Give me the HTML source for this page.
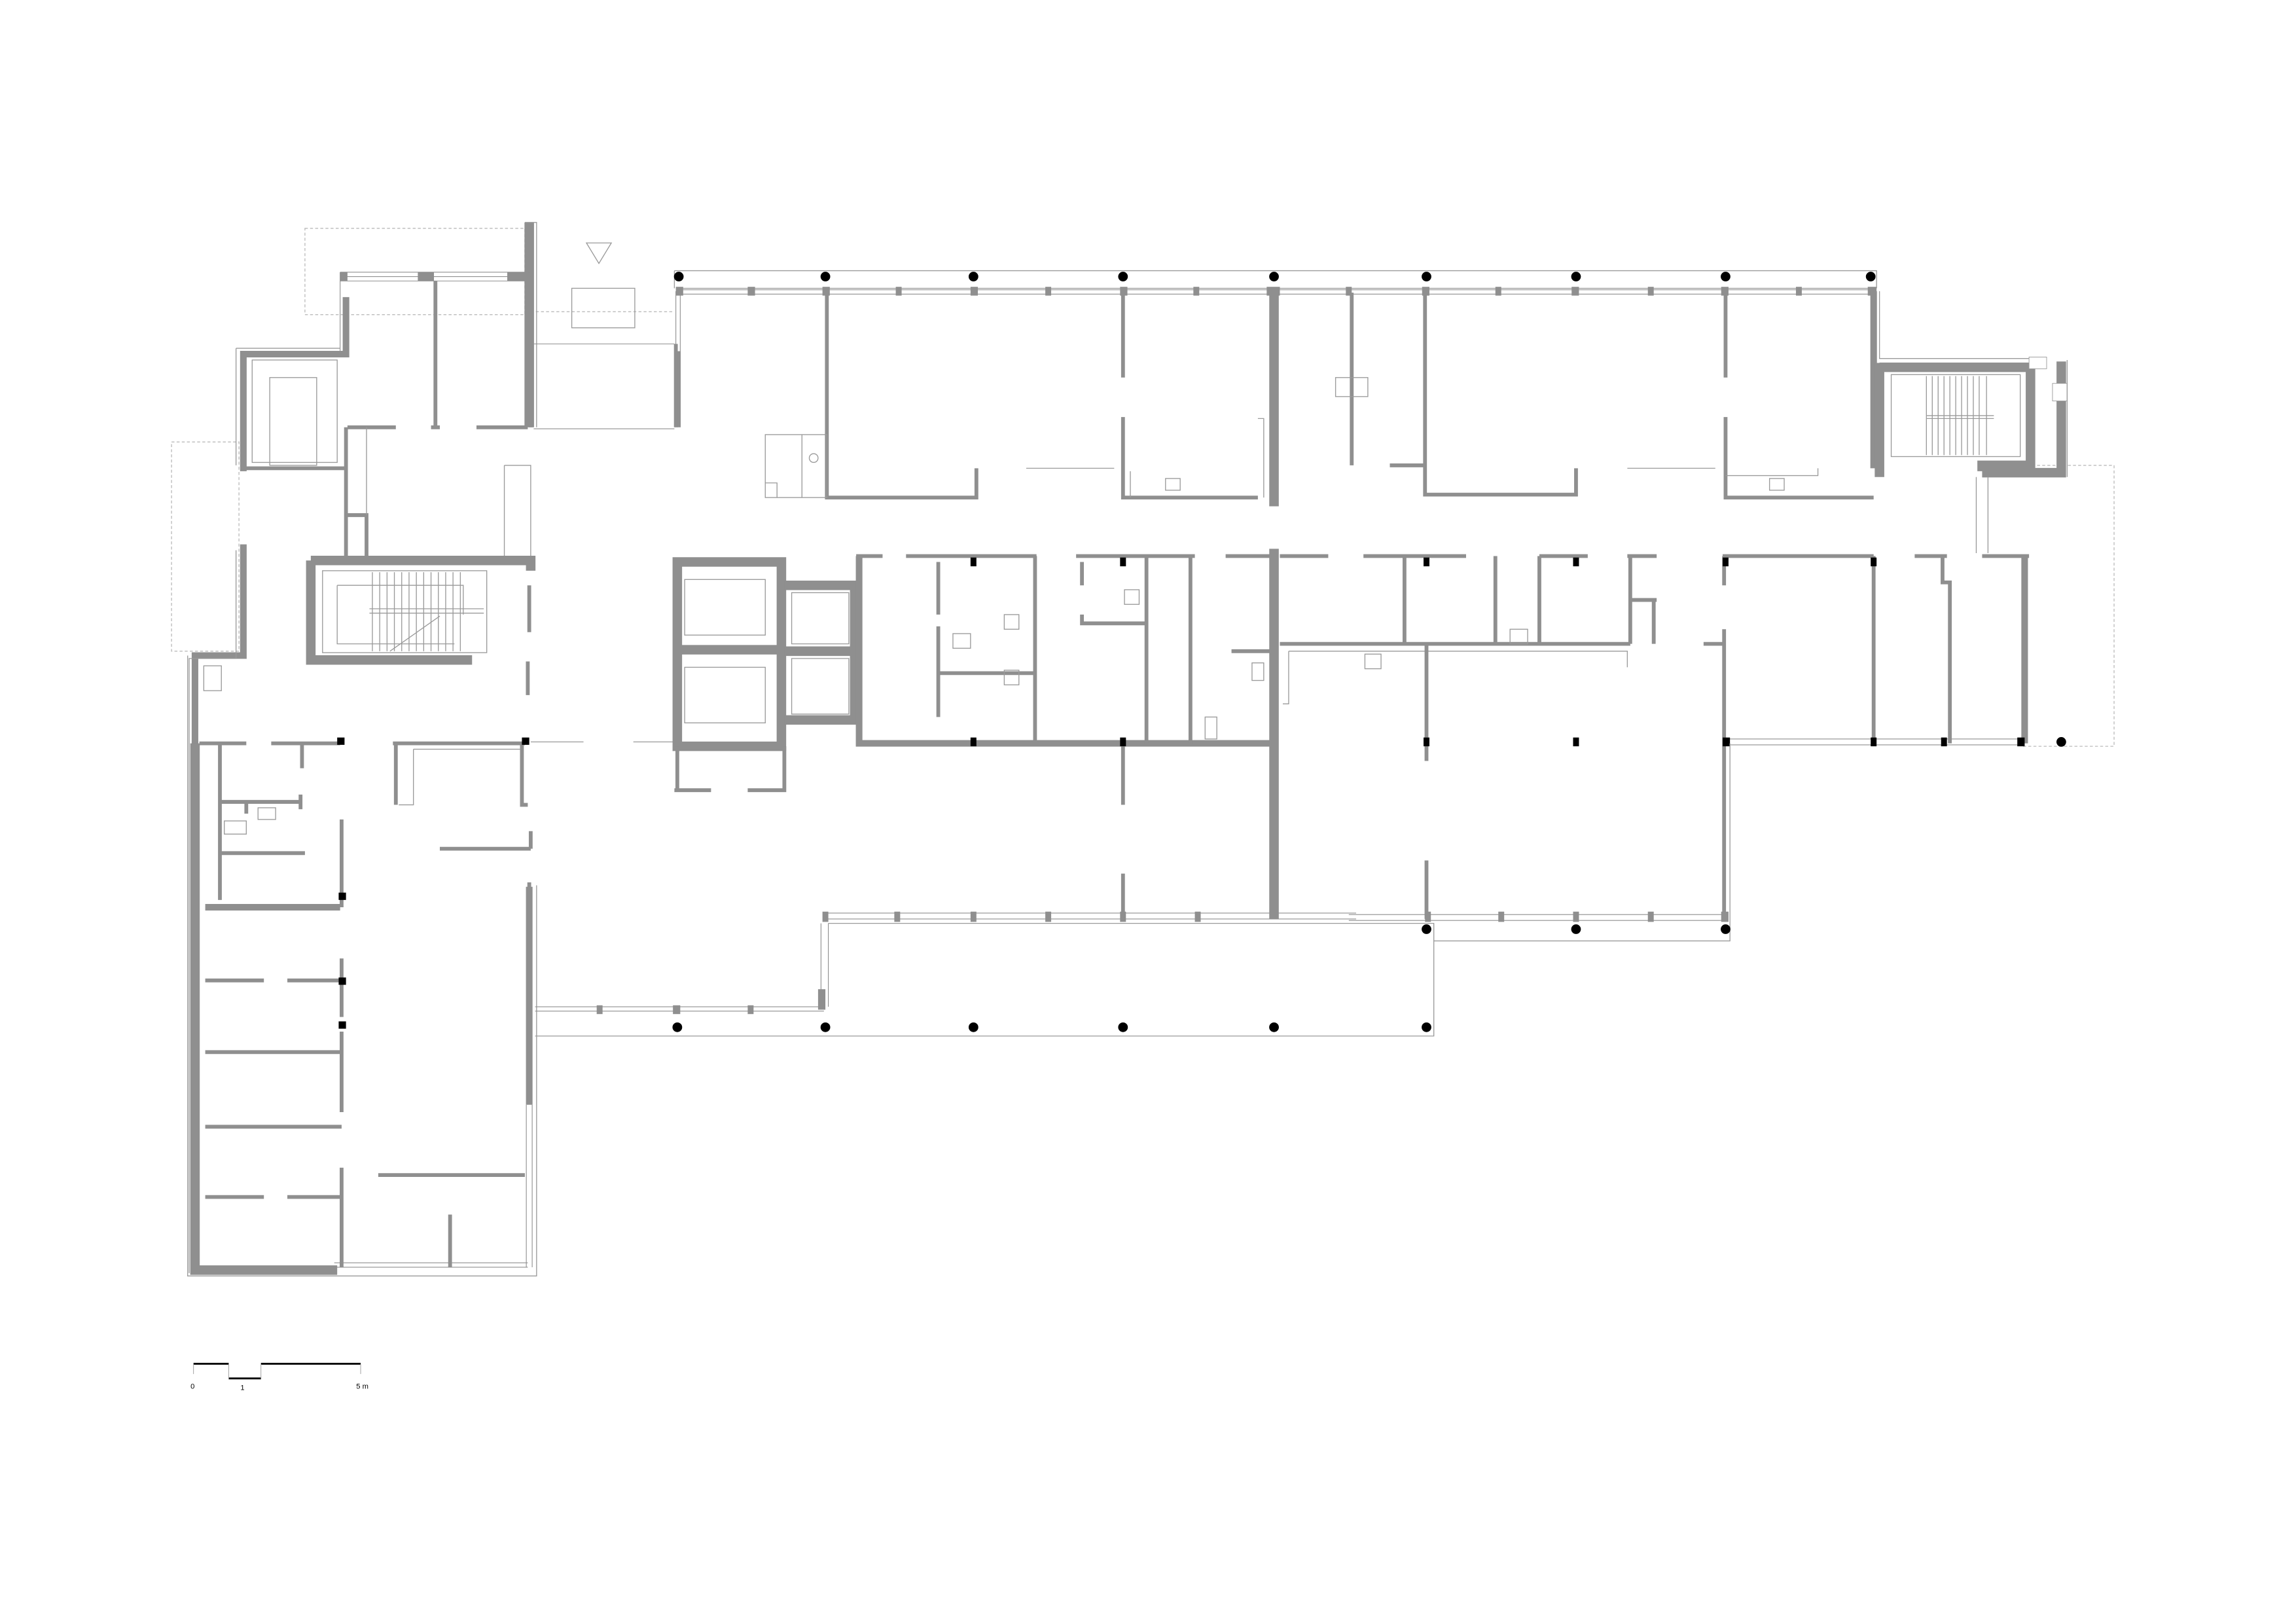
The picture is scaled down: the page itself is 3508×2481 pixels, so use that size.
<!DOCTYPE html>
<html><head><meta charset="utf-8"><style>
html,body{margin:0;padding:0;background:#fff}
svg{display:block}
.w{stroke:#8f8f8f;stroke-width:2.6;fill:none}
.W{stroke:#8f8f8f;stroke-width:6.5;fill:none}
.M{stroke:#8f8f8f;stroke-width:4.5;fill:none}
.t{stroke:#9a9a9a;stroke-width:.6;fill:none}
.d{stroke:#bbb;stroke-width:.6;fill:none;stroke-dasharray:2 1.5}
.win{stroke:#8f8f8f;stroke-width:.5;fill:none}
text{font-family:"Liberation Sans",sans-serif;font-size:5px;fill:#000}
</style></head><body>
<svg width="3508" height="2481" viewBox="0 0 1552 1097.6" xmlns="http://www.w3.org/2000/svg">
<g transform="scale(0.991 0.989)">
<!-- dashed outlines -->
<rect class="d" x="208" y="156" width="150" height="59"/>
<rect class="d" x="117" y="302" width="46" height="143"/>
<path class="d" d="M362 213 H460"/>
<path class="d" d="M1386 318 H1442 V510 H1380"/>
<!-- triangle -->
<path class="t" d="M400 166 H417 L408.5 180 Z"/>

<!-- TOP FACADE -->
<path class="t" d="M460 185 H1280 V197"/>
<path class="t" d="M460 185 V197"/>
<g class="win">
<path d="M462 198 H1278 M462 201 H1278 M462 197 H1278"/>
<path d="M461 199 V292 M464 199 V240"/>
</g>
<g fill="#000">
<circle cx="463" cy="189" r="3.3"/><circle cx="563" cy="189" r="3.3"/><circle cx="664" cy="189" r="3.3"/>
<circle cx="766" cy="189" r="3.3"/><circle cx="869" cy="189" r="3.3"/><circle cx="973" cy="189" r="3.3"/>
<circle cx="1075" cy="189" r="3.3"/><circle cx="1177" cy="189" r="3.3"/><circle cx="1276" cy="189" r="3.3"/>
</g>
<g fill="#8f8f8f">
<rect x="461" y="196" width="5" height="6"/><rect x="510" y="196" width="5" height="6"/><rect x="561" y="196" width="5" height="6"/>
<rect x="611" y="196" width="4" height="6"/><rect x="662" y="196" width="5" height="6"/><rect x="713" y="196" width="4" height="6"/>
<rect x="764" y="196" width="5" height="6"/><rect x="814" y="196" width="4" height="6"/><rect x="864" y="196" width="9" height="6"/>
<rect x="918" y="196" width="4" height="6"/><rect x="970" y="196" width="5" height="6"/><rect x="1020" y="196" width="4" height="6"/>
<rect x="1072" y="196" width="5" height="6"/><rect x="1124" y="196" width="4" height="6"/><rect x="1174" y="196" width="5" height="6"/>
<rect x="1225" y="196" width="4" height="6"/><rect x="1274" y="196" width="6" height="6"/>
</g>
<!-- top rooms -->
<path class="W" d="M869 197 V346"/>
<path class="w" d="M463 240 V292"/>
<path class="w" d="M564 200 V340 H666 V320"/>
<path class="w" d="M766 200 V258 M766 285 V340 H858"/>
<path class="t" d="M700 320 H760 M858 286 H862 V340 M771 322 V340"/>
<rect class="t" x="795" y="327" width="10" height="8"/>
<rect class="t" x="522" y="297" width="42" height="43"/>
<path class="t" d="M547 297 V340 M522 330 H530 V340"/>
<circle class="t" cx="555" cy="313" r="3"/>
<path class="w" d="M922 200 V318 M972 200 V318 M948 318 H972 V338 H1075 V320"/>
<rect class="t" x="911" y="258" width="22" height="13"/>
<path class="t" d="M1110 320 H1170"/>
<path class="w" d="M1177 200 V258 M1177 285 V340 H1278"/>
<path class="t" d="M1177 325 H1240 V320"/>
<rect class="t" x="1207" y="327" width="10" height="8"/>
<path class="M" d="M1278 199 V320"/>
<path class="t" d="M1282 199 V245 H1385 V320 H1350"/>
<!-- right stair -->
<path class="W" d="M1282 248 V326 M1282 251 H1385 V318 H1352 V322"/>
<rect class="t" x="1290" y="256" width="88" height="56"/>
<g class="t"><path d="M1314 257 V311 M1318 257 V311 M1322 257 V311 M1326 257 V311 M1330 257 V311 M1334 257 V311 M1338 257 V311 M1342 257 V311 M1346 257 V311 M1350 257 V311 M1355 257 V311 M1314 284 H1360 M1314 286 H1360"/></g>
<path class="W" d="M1406 247 V323 H1352"/>
<rect x="1384" y="244" width="12" height="8" fill="#fff" stroke="#999" stroke-width=".4"/>
<rect x="1400" y="262" width="10" height="12" fill="#fff" stroke="#999" stroke-width=".4"/>
<path class="t" d="M1410 246 V326 M1348 326 V378 M1356 326 V378"/>

<!-- LEFT TOP -->
<path class="W" d="M361 152 V292"/>
<path class="t" d="M358 152 H366 V292"/>
<path class="win" d="M232 186 H362 M232 189 H362 M232 192 H362 M232 186 V242"/>
<g fill="#8f8f8f"><rect x="232" y="186" width="5" height="6"/><rect x="285" y="186" width="11" height="6"/><rect x="346" y="186" width="14" height="6"/></g>
<path class="w" d="M297 192 V292 M294 292 H300 M237 292 H270 M325 292 H360"/>
<path class="M" d="M236 203 V242 H166 V322 M166 372 V448 H133 V870"/>
<path class="t" d="M161 238 H232 M161 238 V318 M161 376 V450 H129 V870"/>
<path class="w" d="M166 320 H236 V292 M236 292 V382 M236 352 H250 V382"/>
<rect class="t" x="172" y="246" width="58" height="70"/>
<rect class="t" x="184" y="258" width="32" height="60"/>
<path class="t" d="M250 292 V352 M344 318 H362 V380 M344 318 V380"/>
<!-- vestibule -->
<path class="w" d="M362 235 V292 M461 235 V292"/>
<path class="win" d="M364 235 H460 M364 293 H460"/>
<rect class="t" x="390" y="197" width="43" height="27"/>
<!-- left stair -->
<path class="W" d="M212 383 H362 V390 M212 383 V451 H322"/>
<path class="w" d="M361 400 V432 M360 452 V475"/>
<rect class="t" x="220" y="390" width="112" height="56"/>
<g class="t"><path d="M254 391 V445 M259 391 V445 M264 391 V445 M269 391 V445 M274 391 V445 M279 391 V445 M284 391 V445 M289 391 V445 M294 391 V445 M299 391 V445 M304 391 V445 M309 391 V445 M314 391 V445 M252 416 H330 M252 419 H330 M230 400 H316 V420 M230 400 V440 H310 M266 445 L300 421"/></g>

<!-- LEFT WING -->
<path class="W" d="M133 508 V868 H230"/>
<path class="M" d="M140 620 H232"/>
<path class="t" d="M128 448 V872 H366 V605"/>
<path class="win" d="M228 866 H360 M228 863 H360"/>
<path class="w" d="M150 508 V615 M136 508 H168 M185 508 H232 M206 508 V525 M150 548 H205 M205 543 V553 M150 583 H208 M168 548 V556"/>
<rect class="t" x="153" y="561" width="15" height="9"/><rect class="t" x="176" y="552" width="12" height="8"/>
<path class="w" d="M233 560 V620 M233 655 V695 M233 705 V760 M233 798 V866"/>
<path class="w" d="M140 670 H180 M196 670 H233 M140 719 H233 M140 770 H233 M140 818 H180 M196 818 H233 M258 803 H358 M307 830 V866"/>
<path class="w" d="M268 508 H358 M270 508 V550 M356 508 V550 H360 M300 580 H362 M362 568 V580 M361 603 V612"/>
<path class="t" d="M282 512 H355 M282 512 V550 H272"/>
<path class="M" d="M361 606 V755"/>
<path class="win" d="M359 755 V866 M363 755 V866"/>
<g fill="#000"><rect x="230" y="504" width="5" height="5"/><rect x="356" y="504" width="5" height="5"/><rect x="231" y="610" width="5" height="5"/><rect x="231" y="668" width="5" height="5"/><rect x="231" y="698" width="5" height="5"/></g>
<path class="win" d="M362 507 H398 M432 507 H460"/>
<rect class="t" x="139" y="455" width="12" height="17"/>

<!-- MIDDLE BOXES -->
<path class="W" d="M462 384 H533 V510 H462 Z M462 444 H533"/>
<rect class="t" x="467" y="396" width="55" height="38"/><rect class="t" x="467" y="456" width="55" height="38"/>
<path class="W" d="M535 400 H583 V492 H535 M535 445 H583"/>
<path class="t" d="M540 405 H579 V440 H540 Z M540 450 H579 V488 H540 Z"/>
<path class="w" d="M462 510 V540 M460 540 H485 M510 540 H535 V510"/>
<!-- corridor rooms left -->
<path class="M" d="M586 380 V508 H866"/>
<path class="w" d="M584 380 H602 M618 380 H707 M734 380 H815 M836 380 H866"/>
<path class="w" d="M640 384 V420 M640 428 V490 M640 460 H705 M706 380 V508 M738 384 V400 M738 420 V426 H782 M782 380 V508 M812 380 V508 M840 445 H866"/>
<rect class="t" x="650" y="433" width="12" height="10"/><rect class="t" x="685" y="420" width="10" height="10"/><rect class="t" x="685" y="458" width="10" height="10"/><rect class="t" x="767" y="403" width="10" height="10"/><rect class="t" x="854" y="453" width="8" height="12"/><rect class="t" x="822" y="490" width="8" height="15"/>
<path class="w" d="M766 508 V550 M766 597 V628"/>
<!-- big wall -->
<path class="W" d="M869 375 V628"/>
<!-- corridor rooms right -->
<path class="w" d="M873 380 H906 M930 380 H1000 M1050 380 H1083 M1110 380 H1130 M1175 380 H1278 M1306 380 H1328 M1352 380 H1384"/>
<path class="w" d="M873 440 H1112 M1112 410 H1130 M1112 380 V440 M958 380 V440 M1020 380 V440 M1050 380 V440 M1162 440 H1177 M1128 410 V440"/>
<path class="t" d="M879 445 H1110 V456 M879 445 V481 H875"/>
<rect class="t" x="931" y="447" width="11" height="10"/><rect class="t" x="1030" y="430" width="12" height="10"/>
<path class="w" d="M973 440 V520 M973 588 V628"/>
<path class="w" d="M1176 380 V400 M1176 430 V628"/>
<path class="w" d="M1278 380 V508 M1325 380 V398 H1330 V508"/>
<path class="M" d="M1381 380 V508"/>
<path class="win" d="M1178 505 H1380 M1178 509 H1380"/>
<g fill="#000">
<rect x="662" y="381" width="4" height="6"/><rect x="764" y="381" width="4" height="6"/><rect x="971" y="381" width="4" height="6"/><rect x="1073" y="381" width="4" height="6"/><rect x="1175" y="381" width="4" height="6"/><rect x="1276" y="381" width="4" height="6"/>
<rect x="662" y="504" width="4" height="6"/><rect x="764" y="504" width="4" height="6"/><rect x="971" y="504" width="4" height="6"/><rect x="1073" y="504" width="4" height="6"/><rect x="1175" y="504" width="5" height="6"/><rect x="1276" y="504" width="4" height="6"/><rect x="1324" y="504" width="4" height="6"/><rect x="1376" y="504" width="5" height="6"/>
<circle cx="1406" cy="507" r="3.3"/>
</g>
<!-- lower facade -->
<path class="win" d="M562 624 H925 M562 628 H925 M920 625 H1178 M920 629 H1178"/>
<g fill="#8f8f8f"><rect x="561" y="623" width="4" height="7"/><rect x="610" y="623" width="4" height="7"/><rect x="662" y="623" width="4" height="7"/><rect x="713" y="623" width="4" height="7"/><rect x="764" y="623" width="4" height="7"/><rect x="815" y="623" width="4" height="7"/><rect x="972" y="623" width="4" height="7"/><rect x="1022" y="623" width="4" height="7"/><rect x="1073" y="623" width="4" height="7"/><rect x="1124" y="623" width="4" height="7"/><rect x="1174" y="623" width="5" height="7"/></g>
<path class="t" d="M565 631 H978 V708 H365 M978 643 H1180 V508"/>
<g fill="#000"><circle cx="973" cy="635" r="3.3"/><circle cx="1075" cy="635" r="3.3"/><circle cx="1177" cy="635" r="3.3"/>
<circle cx="462" cy="702" r="3.3"/><circle cx="563" cy="702" r="3.3"/><circle cx="664" cy="702" r="3.3"/><circle cx="766" cy="702" r="3.3"/><circle cx="869" cy="702" r="3.3"/><circle cx="973" cy="702" r="3.3"/></g>
<path class="win" d="M365 688 H562 M365 691 H562 M565 631 V688 M560 631 V688"/>
<g fill="#8f8f8f"><rect x="407" y="687" width="4" height="6"/><rect x="459" y="687" width="5" height="6"/><rect x="510" y="687" width="4" height="6"/><rect x="558" y="676" width="5" height="14"/></g>

<!-- scale bar -->
<path d="M132 932 H156 M156 942 H178 M178 932 H246" stroke="#000" stroke-width="1.3" fill="none"/>
<path d="M132 932 V939 M156 932 V942 M178 932 V942 M246 932 V939" stroke="#999" stroke-width=".4" fill="none"/>
<text x="130" y="949">0</text><text x="164" y="950">1</text><text x="243" y="949">5 m</text>
</g>
</svg>
</body></html>
